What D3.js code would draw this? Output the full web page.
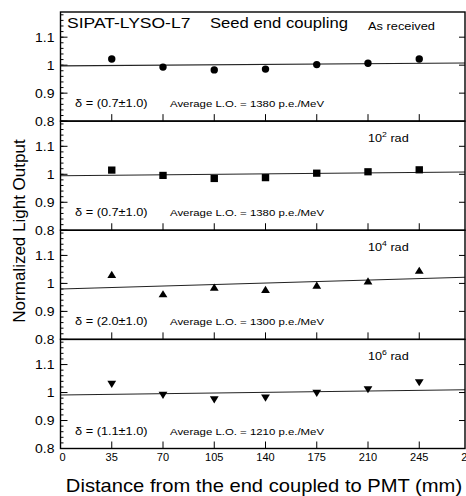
<!DOCTYPE html>
<html>
<head>
<meta charset="utf-8">
<script src="https://cdn.jsdelivr.net/npm/d3@7"></script>
<style>
  body { margin: 0; background: #fff; }
  svg { display: block; font-family: "Liberation Sans", Arial, sans-serif; }
</style>
</head>
<body>
<svg id="chart" width="466" height="496"></svg>
<script>
// distances along the crystal (mm)
const distances = [35, 70, 105, 140, 175, 210, 245];
const xTicks = [0, 35, 70, 105, 140, 175, 210, 245, 280];
const yTicks = [0.8, 0.9, 1, 1.1];

// normalized light output per dose
const asReceived = [1.022, 0.993, 0.983, 0.986, 1.002, 1.007, 1.022];
const dose1e2 = [1.015, 0.996, 0.985, 0.988, 1.004, 1.009, 1.016];
const dose1e4 = [1.032, 0.963, 0.987, 0.979, 0.994, 1.009, 1.047];
const dose1e6 = [1.029, 0.990, 0.974, 0.980, 0.997, 1.010, 1.035];

// linear fits: value at 0 mm and at 280 mm
const fitAt0 = [0.9975, 0.995, 0.980, 0.991];
const fitAt280 = [1.0081, 1.0085, 1.0225, 1.0102];

const markers = ["circle", "square", "triangleUp", "triangleDown"];
const deltaLabels = ["(0.7\u00b11.0)", "(0.7\u00b11.0)", "(2.0\u00b11.0)", "(1.1\u00b11.0)"];
const avgLO = [1380, 1380, 1300, 1210];
const doseExp = [null, "2", "4", "6"];

const series = [asReceived, dose1e2, dose1e4, dose1e6];

const svg = d3.select("#chart");
const left = 60.5, frameRight = 465;
const plotTop = 12, plotBottom = 448.5;
const panelH = (plotBottom - plotTop) / 4;

const x = d3.scaleLinear().domain([0, 280]).range([left, 470.5]);

// the original figure is a bit wide: text is stretched horizontally
function wideText(parent, tx, ty, sx, size) {
  return parent.append("text")
    .attr("transform", `translate(${tx},${ty}) scale(${sx},1)`)
    .attr("font-size", size);
}

svg.append("defs").append("clipPath").attr("id", "frameClip")
  .append("rect").attr("x", left).attr("y", plotTop)
  .attr("width", frameRight - left).attr("height", plotBottom - plotTop);

series.forEach((vals, i) => {
  const y0 = plotTop + i * panelH;
  const y = d3.scaleLinear().domain([0.8, 1.19]).range([y0 + panelH, y0]);
  const g = svg.append("g");

  // left axis: minor and major ticks
  const minor = d3.range(0.8, 1.19, 0.02);
  g.selectAll(".minor").data(minor).enter().append("line")
    .attr("x1", left).attr("x2", left + 3)
    .attr("y1", d => y(d)).attr("y2", d => y(d))
    .attr("stroke", "#000").attr("stroke-width", 1);
  g.selectAll(".major").data(yTicks).enter().append("line")
    .attr("x1", left).attr("x2", left + 7)
    .attr("y1", d => y(d)).attr("y2", d => y(d))
    .attr("stroke", "#000").attr("stroke-width", 1);
  // right axis ticks
  g.selectAll(".rmajor").data(yTicks.slice(1)).enter().append("line")
    .attr("x1", frameRight).attr("x2", frameRight - 6)
    .attr("y1", d => y(d)).attr("y2", d => y(d))
    .attr("stroke", "#000").attr("stroke-width", 1);

  // y tick labels
  yTicks.forEach(t => {
    wideText(g, left - 6, y(t) + 4.5, 1.12, 12.5)
      .attr("text-anchor", "end")
      .text(t === 1 ? "1" : d3.format(".1f")(t));
  });

  // x ticks at the bottom of each panel
  g.selectAll(".xt").data(xTicks.slice(1)).enter().append("line")
    .attr("x1", d => x(d)).attr("x2", d => x(d))
    .attr("y1", y0 + panelH).attr("y2", y0 + panelH - 7)
    .attr("stroke", "#000").attr("stroke-width", 1);

  // fit line
  g.append("line")
    .attr("clip-path", "url(#frameClip)")
    .attr("x1", x(0)).attr("y1", y(fitAt0[i]))
    .attr("x2", x(280)).attr("y2", y(fitAt280[i]))
    .attr("stroke", "#222").attr("stroke-width", 1.1);

  // markers
  const pts = g.selectAll(".pt").data(vals).enter();
  const kind = markers[i];
  if (kind === "circle") {
    pts.append("circle").attr("cx", (d, j) => x(distances[j])).attr("cy", d => y(d))
      .attr("r", 3.7).attr("fill", "#000");
  } else if (kind === "square") {
    pts.append("rect").attr("x", (d, j) => x(distances[j]) - 3.7).attr("y", d => y(d) - 3.6)
      .attr("width", 7.4).attr("height", 7.2).attr("fill", "#000");
  } else {
    const up = kind === "triangleUp";
    pts.append("path")
      .attr("d", (d, j) => {
        const cx = x(distances[j]), cy = y(d), h = 3.6, w = 4.4;
        return up
          ? `M${cx},${cy - h}L${cx + w},${cy + h}L${cx - w},${cy + h}Z`
          : `M${cx},${cy + h}L${cx + w},${cy - h}L${cx - w},${cy - h}Z`;
      })
      .attr("fill", "#000");
  }

  // delta and average light output text
  wideText(g, 75, y0 + panelH - 14, 1.16, 11).text("\u03b4 = " + deltaLabels[i]);
  wideText(g, 170, y0 + panelH - 14, 1.2, 9.5).text("Average L.O. = " + avgLO[i] + " p.e./MeV");

  // dose label
  if (doseExp[i]) {
    const t = wideText(g, 368, y0 + 21, 1.15, 11);
    t.append("tspan").text("10");
    t.append("tspan").attr("dy", -5).attr("font-size", 7.5).text(doseExp[i]);
    t.append("tspan").attr("dy", 5).text(" rad");
  }

  // panel frame
  g.append("rect").attr("x", left).attr("y", y0)
    .attr("width", frameRight - left).attr("height", panelH)
    .attr("fill", "none").attr("stroke", "#000").attr("stroke-width", 1.4);
});

// header texts in the top panel
wideText(svg, 67, 28, 1.25, 14).text("SIPAT-LYSO-L7");
wideText(svg, 210, 28, 1.19, 14).text("Seed end coupling");
wideText(svg, 368, 29.5, 1.22, 10.5).text("As received");

// x tick labels
xTicks.forEach(t => {
  wideText(svg, x(t) + (t === 0 ? 2 : 0), plotBottom + 12.5, 1.05, 10.5)
    .attr("text-anchor", "middle").text(t);
});

// axis titles
wideText(svg, 264, 492, 1.12, 18)
  .attr("text-anchor", "middle")
  .text("Distance from the end coupled to PMT (mm)");
svg.append("text")
  .attr("transform", `translate(25,231) rotate(-90)`)
  .attr("text-anchor", "middle").attr("font-size", 17)
  .text("Normalized Light Output");
</script>
</body>
</html>
